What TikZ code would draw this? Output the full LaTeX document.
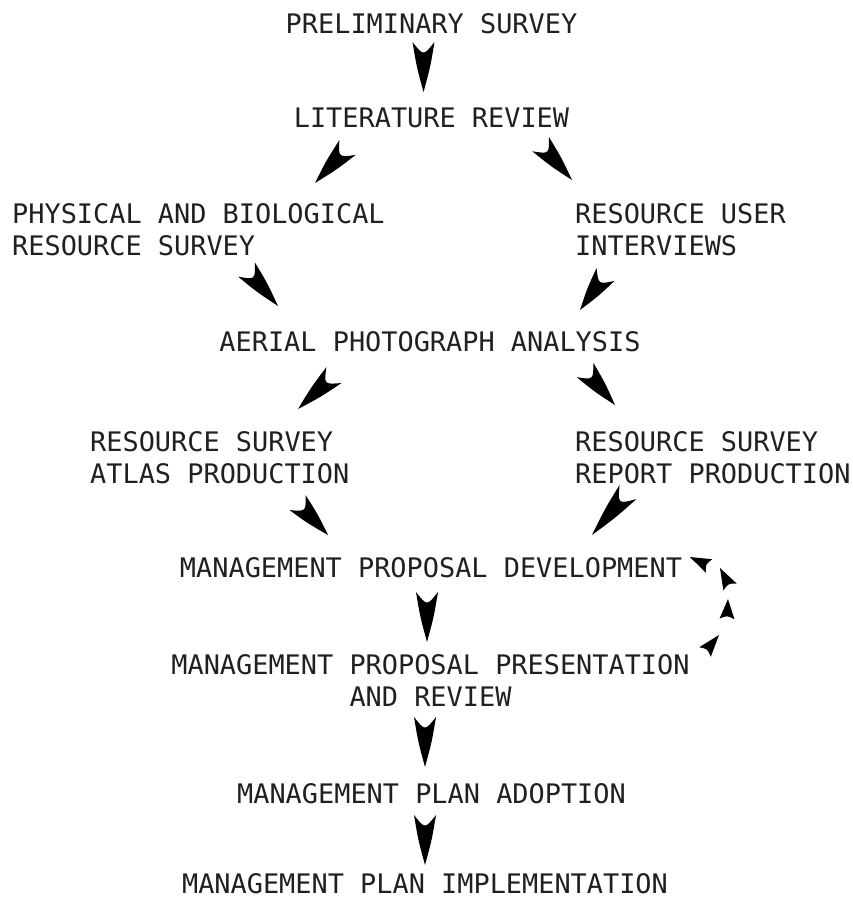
\documentclass[tikz,border=0pt]{standalone}
\usepackage{fontspec}
\setmonofont{DejaVu Sans Mono}
\usetikzlibrary{calc}
\definecolor{ink}{RGB}{32,32,32}
\tikzset{
  x=1pt, y=-1pt,
  lbl/.style={inner sep=0pt, font=\ttfamily\fontsize{26.9}{32}\selectfont, text=ink},
  dartfill/.style={fill=black, draw=none},
}
% a solid dart with a notched back:
% [#1 notch control] #2 tail point, #3 tip point, #4 half width
\newcommand{\dartfrom}[4][0.28]{%
  \fill[dartfill] (#3)
    .. controls ($(#2)!0.5!(#3)!0.62*#4!90:(#3)$) .. ($(#2)!#4!90:(#3)$)
    .. controls ($(#2)!#1!(#3)$) .. ($(#2)!#4!-90:(#3)$)
    .. controls ($(#2)!0.5!(#3)!0.62*#4!-90:(#3)$) .. (#3) -- cycle;}
\begin{document}
\begin{tikzpicture}
\fill[white] (0,0) rectangle (853,898);
\useasboundingbox (0,0) rectangle (853,898);

% stages
\node[lbl, anchor=north] (prelim) at (431.5,13) {PRELIMINARY SURVEY};
\node[lbl, anchor=north] (lit) at (431.5,108) {LITERATURE REVIEW};
\node[lbl, anchor=north west, align=left] (phys) at (12,203) {PHYSICAL AND BIOLOGICAL\\RESOURCE SURVEY};
\node[lbl, anchor=north west, align=left] (users) at (575,203) {RESOURCE USER\\INTERVIEWS};
\node[lbl, anchor=north] (aerial) at (430,331) {AERIAL PHOTOGRAPH ANALYSIS};
\node[lbl, anchor=north west, align=left] (atlas) at (90,431) {RESOURCE SURVEY\\ATLAS PRODUCTION};
\node[lbl, anchor=north west, align=left] (report) at (575,431) {RESOURCE SURVEY\\REPORT PRODUCTION};
\node[lbl, anchor=north] (dev) at (431,557) {MANAGEMENT PROPOSAL DEVELOPMENT};
\node[lbl, anchor=north, align=center] (pres) at (430.5,654) {MANAGEMENT PROPOSAL PRESENTATION\\AND REVIEW};
\node[lbl, anchor=north] (adopt) at (431.5,783) {MANAGEMENT PLAN ADOPTION};
\node[lbl, anchor=north] (impl) at (425,873) {MANAGEMENT PLAN IMPLEMENTATION};

% dart ends: tail point and tip point of each arrow
\coordinate (v1b) at (423.5,42);  \coordinate (v1t) at (423.5,92);
\coordinate (aLb) at (347.5,147.5); \coordinate (aLt) at (315,183);
\coordinate (aRb) at (540.5,144); \coordinate (aRt) at (572,180);
\coordinate (bLb) at (246.5,269.5); \coordinate (bLt) at (278,306);
\coordinate (bRb) at (605.5,274.5); \coordinate (bRt) at (580,310);
\coordinate (cLb) at (334,375);   \coordinate (cLt) at (298,409);
\coordinate (cRb) at (585,370);   \coordinate (cRt) at (615,405);
\coordinate (dLb) at (297.5,502.5); \coordinate (dLt) at (328,535);
\coordinate (dRb) at (628,492);   \coordinate (dRt) at (592,535);
\coordinate (v2b) at (427,592);   \coordinate (v2t) at (427,642);
\coordinate (v3b) at (425,717);   \coordinate (v3t) at (425,767);
\coordinate (v4b) at (425,815);   \coordinate (v4t) at (425,865);

\dartfrom{v1b}{v1t}{11pt}
\dartfrom{aLb}{aLt}{11pt}
\dartfrom{aRb}{aRt}{11pt}
\dartfrom{bLb}{bLt}{11pt}
\dartfrom{bRb}{bRt}{11pt}
\dartfrom{cLb}{cLt}{11pt}
\dartfrom{cRb}{cRt}{11pt}
\dartfrom{dLb}{dLt}{11pt}
\dartfrom{dRb}{dRt}{11pt}
\dartfrom{v2b}{v2t}{11pt}
\dartfrom{v3b}{v3t}{11pt}
\dartfrom{v4b}{v4t}{11pt}

% feedback loop from review back to development, drawn as a trail of small darts
\coordinate (f4b) at (705,652); \coordinate (f4t) at (719,635);
\coordinate (f3b) at (727,619); \coordinate (f3t) at (728,599);
\coordinate (f2b) at (730,587); \coordinate (f2t) at (720,568);
\coordinate (f1b) at (709,566); \coordinate (f1t) at (690,557);
\dartfrom[0.18]{f4b}{f4t}{7.5pt}
\dartfrom[0.18]{f3b}{f3t}{7.5pt}
\dartfrom[0.18]{f2b}{f2t}{7.5pt}
\dartfrom[0.18]{f1b}{f1t}{7.5pt}
\end{tikzpicture}
\end{document}
